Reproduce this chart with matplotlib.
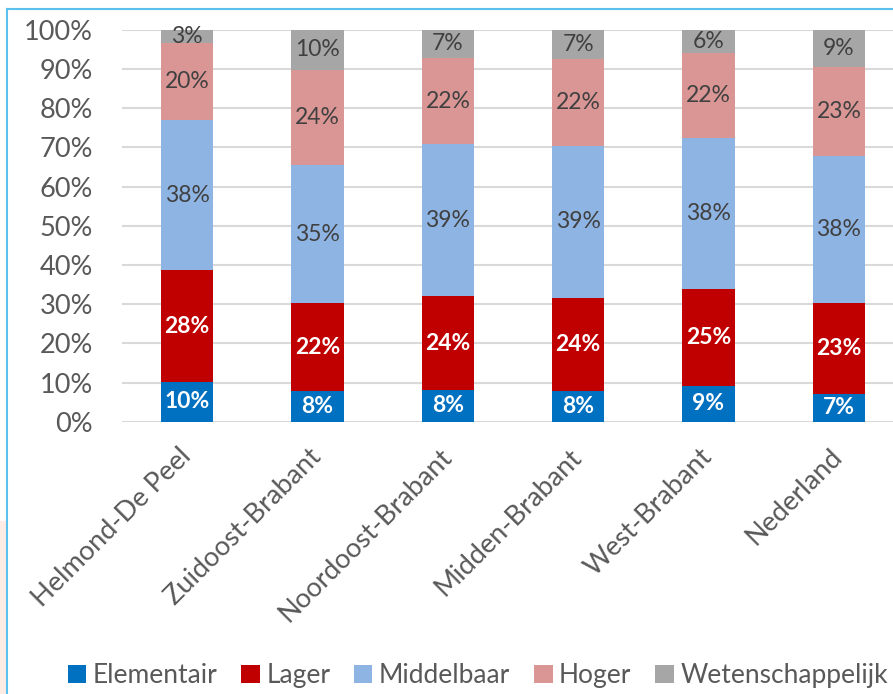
import numpy as np
import matplotlib.pyplot as plt
from matplotlib.patches import Rectangle
from matplotlib.lines import Line2D
from matplotlib.transforms import ScaledTranslation

plt.rcParams['font.family'] = ['Lato', 'DejaVu Sans']

regions = ['Helmond-De Peel', 'Zuidoost-Brabant', 'Noordoost-Brabant',
           'Midden-Brabant', 'West-Brabant', 'Nederland']
levels = ['Elementair', 'Lager', 'Middelbaar', 'Hoger', 'Wetenschappelijk']

# share per education level (%)
elementair = [10.2, 7.8, 8.1, 7.9, 9.2, 7.1]
lager = [28.4, 22.4, 23.9, 23.7, 24.7, 23.1]
middelbaar = [38.4, 35.3, 38.8, 38.9, 38.4, 37.6]
hoger = [19.8, 24.4, 22.1, 22.1, 21.9, 22.8]
wetenschappelijk = [3.2, 10.1, 7.1, 7.4, 5.8, 9.4]

series = [elementair, lager, middelbaar, hoger, wetenschappelijk]
colors = ['#0070C0', '#C00000', '#8EB4E3', '#D99694', '#A6A6A6']
label_colors = ['white', 'white', '#404040', '#404040', '#404040']
label_weights = ['bold', 'bold', 'normal', 'normal', 'normal']

fig = plt.figure(figsize=(8.93, 6.94), dpi=100)
ax = fig.add_axes([0.1366, 0.3924, 0.8757, 0.5644])

x = np.arange(len(regions))
bottom = np.zeros(len(regions))
handles = []
for vals, col, lc, lw, name in zip(series, colors, label_colors, label_weights, levels):
    vals = np.array(vals)
    b = ax.bar(x, vals, 0.4, bottom=bottom, color=col, label=name, zorder=2)
    handles.append(b)
    for xi, v, bt in zip(x, vals, bottom):
        ax.text(xi, bt + v / 2, '%d%%' % round(v), ha='center', va='center',
                color=lc, fontsize=16.5, fontweight=lw, zorder=3)
    bottom += vals

ax.set_xlim(-0.5, 5.5)
ax.set_ylim(0, 100)
ax.set_yticks(np.arange(0, 101, 10))
ax.set_yticklabels(['%d%%' % v for v in range(0, 101, 10)])
ax.yaxis.grid(True, color='#d9d9d9', linewidth=1.5, zorder=0)
ax.set_axisbelow(True)
for s in ax.spines.values():
    s.set_visible(False)
ax.tick_params(axis='both', length=0, colors='#595959', labelsize=19.5)
ax.tick_params(axis='y', pad=21)
ax.set_xticks(x)
ax.set_xticklabels(regions, rotation=45, ha='right', va='top',
                   rotation_mode='anchor')
ax.tick_params(axis='x', pad=16)
shift = ScaledTranslation(-0.09, 0, fig.dpi_scale_trans)
for t in ax.get_xticklabels():
    t.set_transform(t.get_transform() + shift)

fig.legend(handles=handles, labels=levels, loc='center', ncol=5,
           bbox_to_anchor=(0.535, 0.026), frameon=False, fontsize=19,
           handlelength=0.7, handleheight=0.7, handletextpad=0.25,
           columnspacing=0.9, labelcolor='#595959')

# frame lines and the pale patch on the left margin
fig.add_artist(Rectangle((0, 0), 0.007, 0.25, transform=fig.transFigure,
                         color='#fdece6', zorder=0))
fig.add_artist(Line2D([0.008, 1.0], [0.987, 0.987], transform=fig.transFigure,
                      color='#5bc0eb', linewidth=1.5))
fig.add_artist(Line2D([0.008, 0.008], [0.0, 0.987], transform=fig.transFigure,
                      color='#5bc0eb', linewidth=1.5))

fig.savefig('out.png', dpi=100)
